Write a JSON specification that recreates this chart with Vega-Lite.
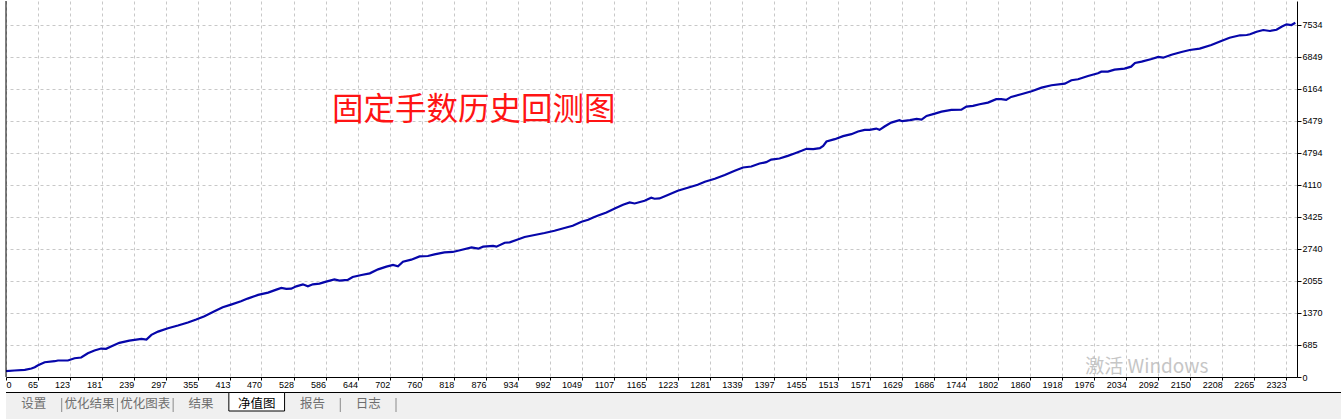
{
  "$schema": "https://vega.github.io/schema/vega-lite/v6.json",
  "background": "white",
  "padding": {"left": 1, "top": 0, "right": 0, "bottom": 0},
  "spacing": 2,
  "config": {"view": {"stroke": null}, "font": "Liberation Sans"},
  "vconcat": [
    {
      "width": 1291,
      "height": 376,
      "layer": [
        {
          "data": {"values": [
            {"t":8,"v":124},{"t":23,"v":139},{"t":42,"v":154},{"t":54,"v":182},{"t":60,"v":209},{"t":66,"v":252},{"t":78,"v":316},{"t":96,"v":338},{"t":102,"v":353},{"t":120,"v":353},
            {"t":132,"v":402},{"t":144,"v":417},{"t":156,"v":509},{"t":168,"v":566},{"t":180,"v":609},{"t":189,"v":603},{"t":198,"v":652},{"t":213,"v":731},{"t":231,"v":780},{"t":253,"v":816},
            {"t":262,"v":801},{"t":271,"v":902},{"t":283,"v":972},{"t":301,"v":1043},{"t":319,"v":1101},{"t":337,"v":1165},{"t":352,"v":1229},{"t":367,"v":1299},{"t":385,"v":1406},{"t":400,"v":1492},
            {"t":415,"v":1549},{"t":433,"v":1620},{"t":445,"v":1678},{"t":464,"v":1757},{"t":482,"v":1806},{"t":497,"v":1870},{"t":506,"v":1906},{"t":515,"v":1885},{"t":524,"v":1891},{"t":533,"v":1940},
            {"t":545,"v":1983},{"t":554,"v":1940},{"t":563,"v":1983},{"t":575,"v":1998},{"t":587,"v":2041},{"t":602,"v":2090},{"t":611,"v":2062},{"t":626,"v":2077},{"t":635,"v":2141},{"t":651,"v":2184},
            {"t":666,"v":2218},{"t":681,"v":2304},{"t":696,"v":2361},{"t":708,"v":2398},{"t":717,"v":2368},{"t":726,"v":2468},{"t":741,"v":2511},{"t":756,"v":2582},{"t":771,"v":2590},{"t":783,"v":2624},
            {"t":801,"v":2667},{"t":816,"v":2676},{"t":831,"v":2718},{"t":850,"v":2774},{"t":862,"v":2746},{"t":871,"v":2789},{"t":889,"v":2804},{"t":895,"v":2789},{"t":910,"v":2874},{"t":919,"v":2881},
            {"t":931,"v":2932},{"t":946,"v":2996},{"t":964,"v":3039},{"t":982,"v":3082},{"t":1000,"v":3131},{"t":1018,"v":3188},{"t":1033,"v":3238},{"t":1049,"v":3323},{"t":1061,"v":3366},{"t":1070,"v":3415},
            {"t":1079,"v":3458},{"t":1094,"v":3522},{"t":1109,"v":3607},{"t":1124,"v":3686},{"t":1136,"v":3735},{"t":1145,"v":3714},{"t":1163,"v":3772},{"t":1175,"v":3836},{"t":1181,"v":3815},{"t":1190,"v":3821},
            {"t":1205,"v":3894},{"t":1223,"v":3986},{"t":1241,"v":4050},{"t":1259,"v":4114},{"t":1272,"v":4178},{"t":1290,"v":4242},{"t":1308,"v":4321},{"t":1326,"v":4413},{"t":1341,"v":4483},{"t":1356,"v":4505},
            {"t":1371,"v":4569},{"t":1383,"v":4599},{"t":1392,"v":4654},{"t":1407,"v":4676},{"t":1422,"v":4733},{"t":1434,"v":4783},{"t":1447,"v":4840},{"t":1456,"v":4883},{"t":1468,"v":4877},{"t":1480,"v":4898},
            {"t":1486,"v":4947},{"t":1492,"v":5039},{"t":1507,"v":5090},{"t":1522,"v":5154},{"t":1537,"v":5197},{"t":1549,"v":5253},{"t":1561,"v":5289},{"t":1570,"v":5289},{"t":1582,"v":5317},{"t":1588,"v":5289},
            {"t":1597,"v":5360},{"t":1609,"v":5445},{"t":1624,"v":5496},{"t":1629,"v":5475},{"t":1643,"v":5496},{"t":1655,"v":5524},{"t":1664,"v":5509},{"t":1673,"v":5588},{"t":1688,"v":5637},{"t":1700,"v":5680},
            {"t":1718,"v":5716},{"t":1736,"v":5723},{"t":1745,"v":5787},{"t":1757,"v":5802},{"t":1769,"v":5838},{"t":1784,"v":5873},{"t":1799,"v":5945},{"t":1808,"v":5945},{"t":1817,"v":5930},{"t":1826,"v":5994},
            {"t":1844,"v":6052},{"t":1863,"v":6116},{"t":1881,"v":6193},{"t":1899,"v":6244},{"t":1923,"v":6279},{"t":1935,"v":6351},{"t":1947,"v":6373},{"t":1965,"v":6443},{"t":1983,"v":6501},{"t":1989,"v":6535},
            {"t":2001,"v":6535},{"t":2013,"v":6578},{"t":2031,"v":6599},{"t":2043,"v":6642},{"t":2050,"v":6721},{"t":2062,"v":6749},{"t":2080,"v":6806},{"t":2092,"v":6849},{"t":2101,"v":6834},{"t":2116,"v":6898},
            {"t":2134,"v":6956},{"t":2149,"v":6999},{"t":2167,"v":7027},{"t":2188,"v":7106},{"t":2206,"v":7191},{"t":2221,"v":7262},{"t":2240,"v":7313},{"t":2252,"v":7319},{"t":2258,"v":7334},{"t":2270,"v":7390},
            {"t":2282,"v":7426},{"t":2294,"v":7405},{"t":2306,"v":7432},{"t":2315,"v":7497},{"t":2324,"v":7548},{"t":2333,"v":7533},{"t":2340,"v":7582}
          ]},
          "mark": {"type": "line", "color": "#0606aa", "strokeWidth": 2.2, "interpolate": "linear"},
          "encoding": {
            "x": {
              "field": "t", "type": "quantitative", "title": null,
              "scale": {"domain": [8, 2343], "nice": false, "zero": false},
              "axis": {
                "title": null,
                "orient": "bottom",
                "values": [8,65,123,181,239,297,355,413,470,528,586,644,702,760,818,876,934,992,1049,1107,1165,1223,1281,1339,1397,1455,1513,1571,1629,1686,1744,1802,1860,1918,1976,2034,2092,2150,2208,2265,2323],
                "tickCount": 200,
                "format": "d",
                "labelExpr": "datum.value == 8 ? '0' : datum.label",
                "labelAlign": {"condition": {"test": "datum.value == 8", "value": "left"}, "value": "right"},
                "labelBaseline": "top",
                "labelFlush": false,
                "labelOverlap": false,
                "labelFont": "Liberation Sans",
                "labelFontSize": 9,
                "labelColor": "#000000",
                "labelPadding": 0,
                "tickSize": 3,
                "tickColor": "#000000",
                "domainColor": "#000000",
                "domainWidth": 1,
                "grid": true,
                "gridColor": "#c8c8c8",
                "gridDash": [3, 3],
                "gridWidth": 1
              }
            },
            "y": {
              "field": "v", "type": "quantitative", "title": null,
              "scale": {"domain": [0, 8047], "nice": false, "zero": false},
              "axis": {
                "title": null,
                "orient": "right",
                "values": [0,685,1370,2055,2740,3425,4110,4794,5479,6164,6849,7534],
                "tickCount": 200,
                "format": "d",
                "labelAlign": "left",
                "labelBaseline": "middle",
                "labelFlush": false,
                "labelOverlap": false,
                "labelFont": "Liberation Sans",
                "labelFontSize": 9,
                "labelColor": "#000000",
                "labelPadding": 1,
                "tickSize": 4,
                "tickColor": "#000000",
                "domainColor": "#000000",
                "domainWidth": 1,
                "grid": true,
                "gridColor": "#c8c8c8",
                "gridDash": [3, 3],
                "gridWidth": 1
              }
            }
          }
        },
        {
          "data": {"values": [{}]},
          "mark": {"type": "rule", "color": "#000000", "strokeWidth": 1},
          "encoding": {"x": {"datum": 8, "type": "quantitative", "title": null}}
        },
        {
          "data": {"values": [{"label": "固定手数历史回测图"}]},
          "mark": {"type": "text", "font": "Noto Sans CJK SC", "fontSize": 31.5, "color": "#ff1414", "align": "center", "baseline": "middle"},
          "encoding": {
            "x": {"datum": 854, "type": "quantitative", "title": null},
            "y": {"datum": 5693, "type": "quantitative", "title": null},
            "text": {"field": "label"}
          }
        },
        {
          "data": {"values": [{"label": "激活 Windows"}]},
          "mark": {"type": "text", "font": "Noto Sans CJK SC", "fontSize": 19, "color": "#b8b8b8", "opacity": 0.8, "align": "left", "baseline": "middle"},
          "encoding": {
            "x": {"datum": 1960, "type": "quantitative", "title": null},
            "y": {"datum": 214, "type": "quantitative", "title": null},
            "text": {"field": "label"}
          }
        }
      ]
    },
    {
      "width": 1340,
      "height": 27,
      "view": {"fill": "#f0f0f0", "stroke": null},
      "data": {"values": [
        {"tab": "设置"}, {"tab": "优化结果"}, {"tab": "优化图表"}, {"tab": "结果"}, {"tab": "净值图"}, {"tab": "报告"}, {"tab": "日志"}
      ]},
      "layer": [
        {
          "transform": [{"filter": "datum.tab == '设置'"}],
          "mark": {"type": "rule", "color": "#000000", "strokeWidth": 1},
          "encoding": {"y": {"datum": 26.5, "type": "quantitative", "scale": {"domain": [0, 27], "nice": false, "zero": false}, "axis": null}}
        },
        {
          "transform": [{"filter": "datum.tab == '净值图'"}],
          "mark": {"type": "bar", "fill": "#ffffff", "stroke": "#000000", "strokeWidth": 1},
          "encoding": {
            "x": {"field": "tab", "type": "nominal", "scale": {"type": "band", "domain": ["设置","优化结果","优化图表","结果","净值图","报告","日志"], "range": [0, 390], "paddingInner": 0, "paddingOuter": 0}, "axis": null},
            "y": {"datum": 26.5, "type": "quantitative", "axis": null},
            "y2": {"datum": 8}
          }
        },
        {
          "transform": [{"filter": "datum.tab != '结果' && datum.tab != '净值图'"}],
          "mark": {"type": "rule", "color": "#8a8a8a", "strokeWidth": 1},
          "encoding": {
            "x": {"field": "tab", "type": "nominal", "bandPosition": 1, "axis": null},
            "y": {"datum": 21, "type": "quantitative", "axis": null},
            "y2": {"datum": 7}
          }
        },
        {
          "mark": {"type": "text", "font": "Noto Sans CJK SC", "fontSize": 12.5, "align": "center", "baseline": "middle"},
          "encoding": {
            "x": {"field": "tab", "type": "nominal", "axis": null},
            "y": {"datum": 15, "type": "quantitative", "axis": null},
            "text": {"field": "tab"},
            "color": {"condition": {"test": "datum.tab == '净值图'", "value": "#000000"}, "value": "#6e6e6e"}
          }
        }
      ]
    }
  ]
}
